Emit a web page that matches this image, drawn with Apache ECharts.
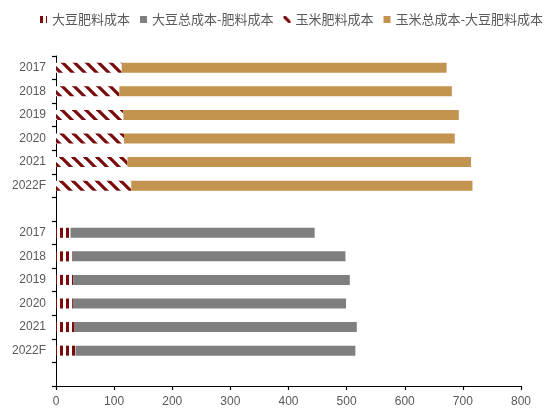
<!DOCTYPE html>
<html>
<head>
<meta charset="utf-8">
<script src="https://cdn.jsdelivr.net/npm/echarts@6/dist/echarts.min.js"></script>
<style>
html,body{margin:0;padding:0;background:#fff;}
#chart{width:559px;height:417px;}
</style>
</head>
<body>
<div id="chart"></div>
<script>
// Category labels (top: corn group, bottom: soybean group, blank spacer rows)
var categories = ['2017','2018','2019','2020','2021','2022F','','2017','2018','2019','2020','2021','2022F',''];
var seriesNames = ['大豆肥料成本','大豆总成本-肥料成本','玉米肥料成本','玉米总成本-大豆肥料成本'];
// Soybean rows
var soyFert = ['-','-','-','-','-','-','-',25,28.5,29.5,29,32,33.5,'-'];
var soyRest = ['-','-','-','-','-','-','-',420,469.5,476,470,485.5,481.5,'-'];
// Corn rows
var cornFert = [113,109,116,117,123,129.5,'-','-','-','-','-','-','-','-'];
var cornRest = [559,572,577,569,591,587,'-','-','-','-','-','-','-','-'];
var xTicks = {min:0, max:800, interval:100};

var DARK_RED = '#7d0a0a';
function diagPattern(){
  var c = document.createElement('canvas');
  c.width = 12; c.height = 12;
  var g = c.getContext('2d');
  g.fillStyle = '#ffffff'; g.fillRect(0,0,12,12);
  g.strokeStyle = DARK_RED; g.lineWidth = 3.2;
  for (var k=-1;k<=1;k++){
    g.beginPath(); g.moveTo(k*12-2,-2); g.lineTo(k*12+14,14); g.stroke();
  }
  return {image:c, repeat:'repeat'};
}
function vertPattern(){
  var c = document.createElement('canvas');
  c.width = 6; c.height = 6;
  var g = c.getContext('2d');
  g.fillStyle = '#ffffff'; g.fillRect(0,0,6,6);
  g.fillStyle = DARK_RED; g.fillRect(0,0,3,6);
  return {image:c, repeat:'repeat'};
}

var chart = echarts.init(document.getElementById('chart'));
var labelColor = '#595959';
chart.setOption({
  animation:false,
  legend:{
    data:seriesNames, left:35, top:8, itemWidth:7, itemHeight:7, itemGap:10,
    icon:'rect',
    textStyle:{color:labelColor, fontSize:13, fontFamily:'Noto Sans CJK SC'}
  },
  grid:{left:56, right:38, top:56, bottom:31, containLabel:false},
  xAxis:{
    type:'value', min:xTicks.min, max:xTicks.max, interval:xTicks.interval,
    axisLine:{show:true, lineStyle:{color:'#000', width:1}},
    axisTick:{show:true, inside:false, length:4, lineStyle:{color:'#000', width:1.2}},
    axisLabel:{color:labelColor, fontSize:12, margin:10, fontFamily:'Liberation Sans'},
    splitLine:{show:false}
  },
  yAxis:{
    type:'category', data:categories, inverse:true,
    axisLine:{show:true, lineStyle:{color:'#000', width:1}},
    axisTick:{show:true, inside:false, length:4, interval:0, alignWithLabel:false, lineStyle:{color:'#000', width:1.2}},
    axisLabel:{color:labelColor, fontSize:12, margin:10, interval:0, fontFamily:'Liberation Sans'}
  },
  series:[
    {name:seriesNames[0], type:'bar', stack:'all', barWidth:10, data:soyFert,
      itemStyle:{color:vertPattern()}},
    {name:seriesNames[1], type:'bar', stack:'all', barWidth:10, data:soyRest,
      itemStyle:{color:'#7f7f7f'}},
    {name:seriesNames[2], type:'bar', stack:'all', barWidth:10, data:cornFert,
      itemStyle:{color:diagPattern()}},
    {name:seriesNames[3], type:'bar', stack:'all', barWidth:10, data:cornRest,
      itemStyle:{color:'#c3944f'}}
  ]
});
</script>
</body>
</html>
